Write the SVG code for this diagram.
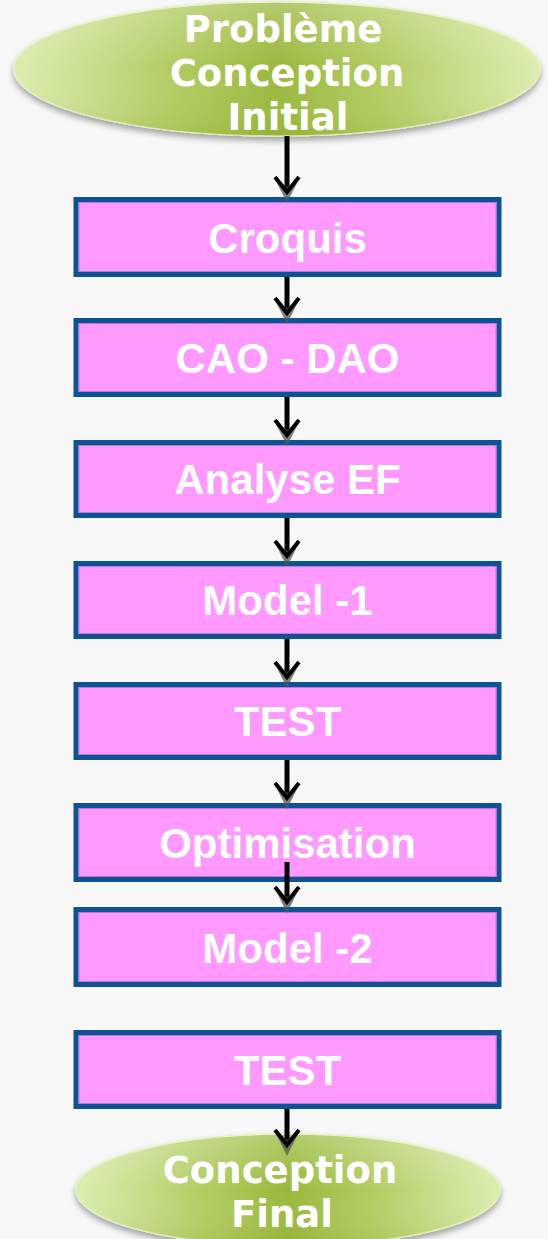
<svg xmlns="http://www.w3.org/2000/svg" width="548" height="1239" viewBox="0 0 548 1239">
  <style>
    .box { fill: #ff99ff; stroke: #0d5394; stroke-width: 5; }
    .inner { fill: none; stroke: #b77ad6; stroke-width: 1; }
    .btxt { font-family: "Liberation Sans", Arial, sans-serif; font-weight: bold; font-size: 42px; fill: #ffffff; text-anchor: middle; }
    .etxt { font-family: "DejaVu Sans", "Liberation Sans", sans-serif; font-weight: bold; font-size: 37px; fill: #ffffff; text-anchor: middle; }
    .conn { stroke: #000000; stroke-width: 5; fill: none; marker-end: url(#arrow); }
    .oval { fill: url(#greenH); stroke: #e3f2b8; stroke-width: 1.5; filter: url(#soft); }
  </style>
  <defs>
    <linearGradient id="greenH" x1="0" y1="0" x2="1" y2="0">
      <stop offset="0" stop-color="#dcedb0"/>
      <stop offset="0.3" stop-color="#b2cc62"/>
      <stop offset="0.5" stop-color="#98b83a"/>
      <stop offset="0.7" stop-color="#b2cc62"/>
      <stop offset="1" stop-color="#dcedb0"/>
    </linearGradient>
    <linearGradient id="gloss" x1="0" y1="0" x2="0" y2="1">
      <stop offset="0" stop-color="#ffffff" stop-opacity="0.25"/>
      <stop offset="0.5" stop-color="#ffffff" stop-opacity="0"/>
      <stop offset="1" stop-color="#7a9a20" stop-opacity="0.15"/>
    </linearGradient>
    <filter id="soft" x="-10%" y="-20%" width="120%" height="150%">
      <feDropShadow dx="0" dy="4" stdDeviation="3" flood-color="#000000" flood-opacity="0.35"/>
    </filter>
    <!-- open arrowhead with a grey drop shadow -->
    <marker id="arrow" markerUnits="userSpaceOnUse" viewBox="-20 -15 36 30" refX="0" refY="0" markerWidth="36" markerHeight="30" orient="auto" overflow="visible">
      <path d="M -13 -12 L 11 0 L -13 12 L -5 0 Z" fill="#555555" fill-opacity="0.75"/>
      <polyline points="-15,-12 0,0 -15,12" fill="none" stroke="#000000" stroke-width="4" stroke-linejoin="miter"/>
    </marker>
  </defs>

  <!-- page background -->
  <rect x="0" y="0" width="548" height="1239" fill="#f7f7f7"/>

  <!-- start terminal -->
  <g id="start">
    <ellipse class="oval" cx="277" cy="69" rx="263" ry="67"/>
    <ellipse cx="277" cy="69" rx="263" ry="67" fill="url(#gloss)"/>
    <text class="etxt" x="283" y="42">Problème</text>
    <text class="etxt" x="287" y="86">Conception</text>
    <text class="etxt" x="288" y="130">Initial</text>
  </g>

  <!-- process steps -->
  <g id="croquis">
    <rect class="box" x="76" y="199.5" width="423" height="75"/>
    <rect class="inner" x="79" y="202.5" width="417" height="69"/>
    <text class="btxt" x="287.5" y="253">Croquis</text>
  </g>
  <g id="cao-dao">
    <rect class="box" x="76" y="320.5" width="423" height="74"/>
    <rect class="inner" x="79" y="323.5" width="417" height="68"/>
    <text class="btxt" x="287.5" y="373">CAO - DAO</text>
  </g>
  <g id="analyse-ef">
    <rect class="box" x="76" y="442.5" width="423" height="73"/>
    <rect class="inner" x="79" y="445.5" width="417" height="67"/>
    <text class="btxt" x="287.5" y="494">Analyse EF</text>
  </g>
  <g id="model-1">
    <rect class="box" x="76" y="563.5" width="423" height="73"/>
    <rect class="inner" x="79" y="566.5" width="417" height="67"/>
    <text class="btxt" x="287.5" y="615">Model -1</text>
  </g>
  <g id="test-1">
    <rect class="box" x="76" y="684.5" width="423" height="73"/>
    <rect class="inner" x="79" y="687.5" width="417" height="67"/>
    <text class="btxt" x="287.5" y="736">TEST</text>
  </g>
  <g id="optimisation">
    <rect class="box" x="76" y="805.5" width="423" height="74"/>
    <rect class="inner" x="79" y="808.5" width="417" height="68"/>
    <text class="btxt" x="287.5" y="858">Optimisation</text>
  </g>
  <g id="model-2">
    <rect class="box" x="76" y="909.5" width="423" height="75"/>
    <rect class="inner" x="79" y="912.5" width="417" height="69"/>
    <text class="btxt" x="287.5" y="963">Model -2</text>
  </g>
  <g id="test-2">
    <rect class="box" x="76" y="1032.5" width="423" height="74"/>
    <rect class="inner" x="79" y="1035.5" width="417" height="68"/>
    <text class="btxt" x="287.5" y="1085">TEST</text>
  </g>

  <!-- end terminal -->
  <g id="end">
    <ellipse class="oval" cx="288" cy="1190" rx="212" ry="56"/>
    <ellipse cx="288" cy="1190" rx="212" ry="56" fill="url(#gloss)"/>
    <text class="etxt" x="280" y="1183">Conception</text>
    <text class="etxt" x="282" y="1227">Final</text>
  </g>

  <!-- connectors -->
  <g id="connectors">
    <path class="conn" d="M 287 136 V 192"/>
    <path class="conn" d="M 287 277 V 313"/>
    <path class="conn" d="M 287 397 V 435"/>
    <path class="conn" d="M 287 518 V 556"/>
    <path class="conn" d="M 287 639 V 677"/>
    <path class="conn" d="M 287 760 V 798"/>
    <path class="conn" d="M 287 862 V 902"/>
    <path class="conn" d="M 287 1109 V 1145"/>
  </g>
</svg>
